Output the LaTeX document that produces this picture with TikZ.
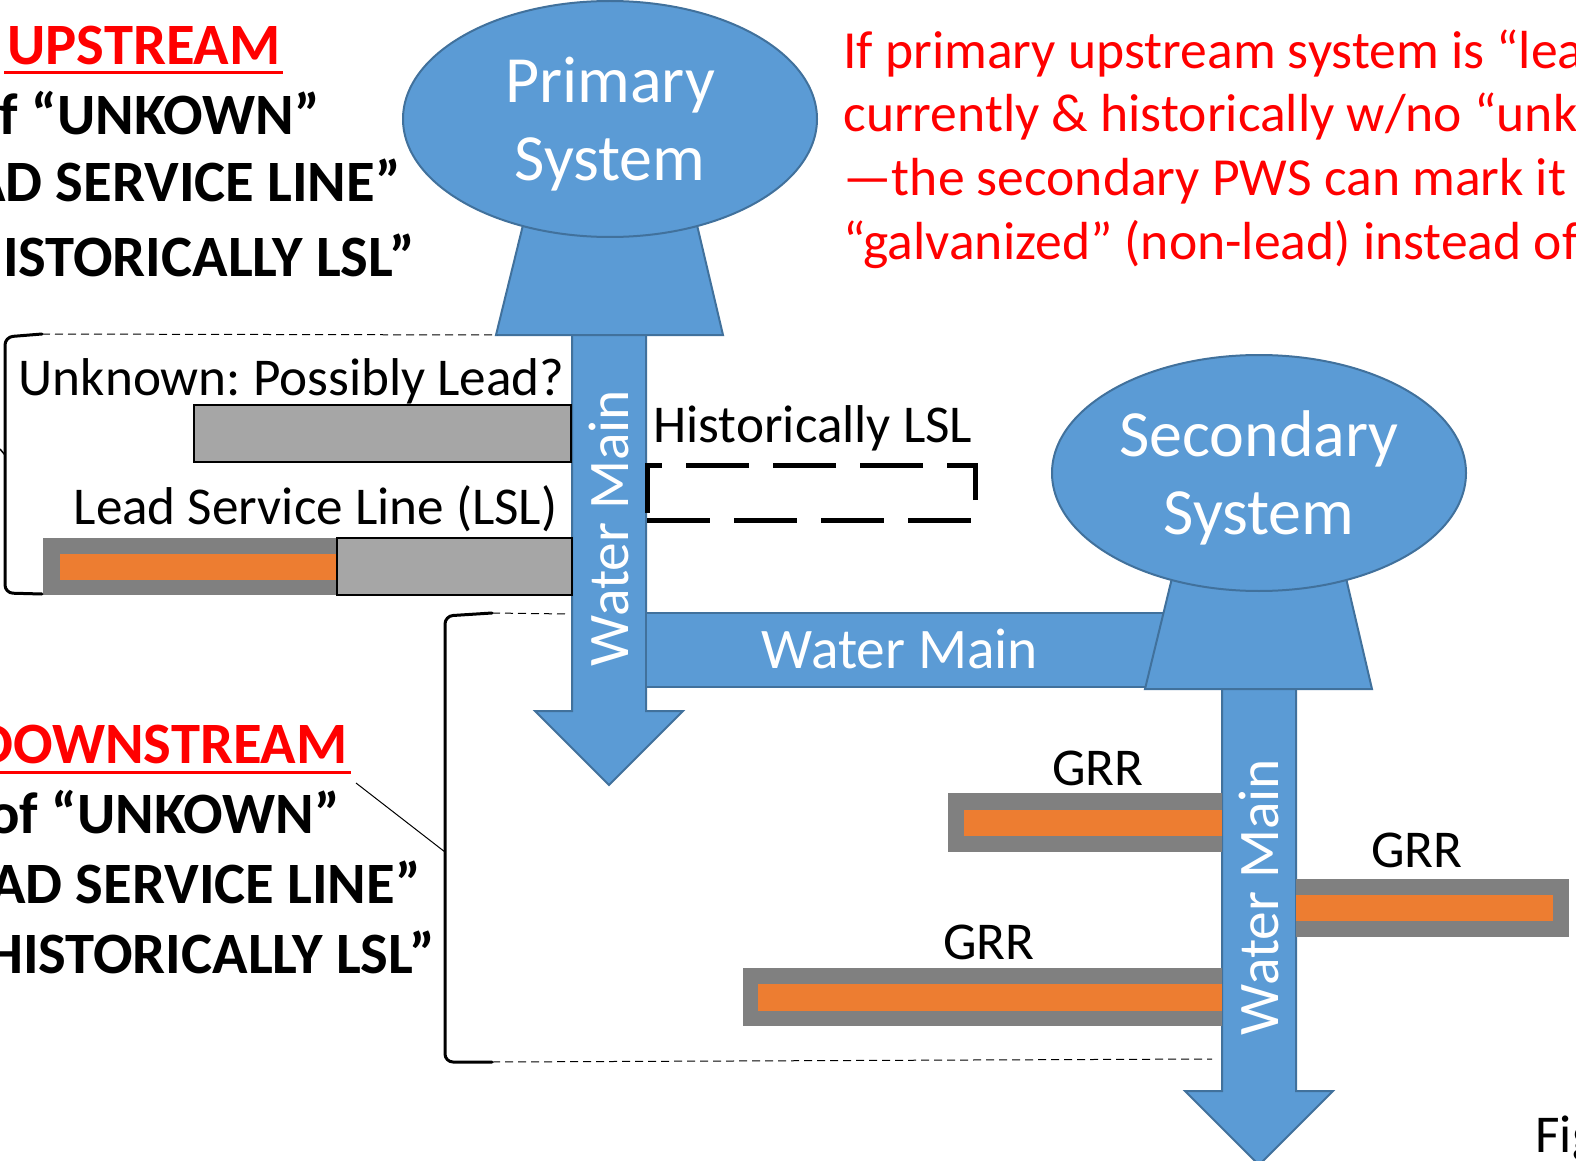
\documentclass[tikz,border=0pt]{standalone}
\usepackage{fontspec}
\setmainfont{Carlito}
\frenchspacing
\usetikzlibrary{shapes.geometric}
\definecolor{wmblue}{HTML}{5B9BD5}
\definecolor{wmedge}{HTML}{41719C}
\definecolor{pipegray}{HTML}{808080}
\definecolor{boxgray}{HTML}{A6A6A6}
\definecolor{leadorange}{HTML}{ED7D31}
\definecolor{alertred}{HTML}{FF0000}
\begin{document}
\begin{tikzpicture}[x=0.5pt,y=-0.5pt,
  wm/.style={fill=wmblue,draw=wmedge,line width=1pt,line join=miter},
  sys/.style={ellipse,wm,minimum width=207pt,minimum height=118pt,inner sep=0pt,text=white,align=center,font=\fontsize{33}{39}\selectfont,text depth=0pt},
  wmtext/.style={text=white,font=\fontsize{28.7}{34}\selectfont,inner sep=0pt},
  lbl/.style={font=\fontsize{26.6}{32}\selectfont,inner sep=0pt},
  boldtxt/.style={font=\fontsize{29.3}{35}\selectfont\bfseries,inner sep=0pt,anchor=base east},
  note/.style={font=\fontsize{26.8}{32}\selectfont,text=alertred,inner sep=0pt,anchor=base west},
  outerpipe/.style={fill=pipegray},
  leadcore/.style={fill=leadorange},
  unkbox/.style={fill=boxgray,draw=black,line width=1pt},
  brk/.style={line width=1.5pt,line cap=round,line join=round,rounded corners=4pt},
  guide/.style={line width=0.5pt,dash pattern=on 4pt off 2.5pt},
  histbox/.style={line width=2.5pt,dash pattern=on 31.5pt off 12pt},
]
\useasboundingbox (0,0) rectangle (1576,1161);
\begin{scope}
\clip (0,0) rectangle (1576,1161);

% ---- water mains (arrows) ----
\draw[wm] (572,330) -- (572,711) -- (535,711) -- (609,785) -- (683,711) -- (646,711) -- (646,330) -- cycle;
\draw[wm] (646,613) rectangle (1170,687);
\draw[wm] (1222,685) -- (1222,1091) -- (1185,1091) -- (1259,1165) -- (1333,1091) -- (1296,1091) -- (1296,685) -- cycle;

% ---- towers ----
\draw[wm] (523,225) -- (697,225) -- (723,335) -- (496,335) -- cycle;
\draw[wm] (1172,578) -- (1346,578) -- (1372,689) -- (1145,689) -- cycle;
\node[sys] (prim) at (610,119) {Primary\\System};
\node[sys] (sec) at (1259,473) {Secondary\\System};

% ---- water main labels ----
\node[wmtext,rotate=90] (wm1) at (609,528) {Water Main};
\node[wmtext,anchor=base] (wm2) at (900,668) {Water Main};
\node[wmtext,rotate=90] (wm3) at (1259,897) {Water Main};

% ---- upstream service lines ----
\draw[unkbox] (194,405) rectangle (571,462);
\fill[outerpipe] (43,538) rectangle (573,595);
\fill[leadcore] (60,554) rectangle (337,580);
\draw[unkbox] (337,538) rectangle (572,595);
\node[lbl,anchor=base east] (unk) at (565,395) {Unknown: Possibly Lead?};
\node[lbl,anchor=base east] (lsl) at (558,524) {Lead Service Line (LSL)};

% ---- historically LSL ----
\node[lbl,anchor=base west] (hist) at (653,442) {Historically LSL};
\draw[histbox] (647,520) -- (975,520) -- (975,465) -- (647,465) -- cycle;

% ---- GRR lines ----
\fill[outerpipe] (948,793) rectangle (1222,852);
\fill[leadcore] (964,810) rectangle (1222,836);
\fill[outerpipe] (1296,879) rectangle (1569,937);
\fill[leadcore] (1296,895) rectangle (1553,921);
\fill[outerpipe] (743,968) rectangle (1222,1026);
\fill[leadcore] (758,984) rectangle (1222,1011);
\node[lbl,anchor=base] (g1) at (1098,785) {GRR};
\node[lbl,anchor=base] (g2) at (1417,867) {GRR};
\node[lbl,anchor=base] (g3) at (989,959) {GRR};

% ---- upstream text ----
\node[boldtxt,text=alertred] (up) at (281,65) {UPSTREAM};
\draw[alertred,line width=1.5pt] ([xshift=-1.5pt,yshift=-4pt]up.base west) -- ([xshift=1pt,yshift=-4pt]up.base east);
\node[boldtxt] (up2) at (320,135) {f “UNKOWN”};
\node[boldtxt] (up3) at (401,202) {AD SERVICE LINE”};
\node[boldtxt] (up4) at (415,277) {ISTORICALLY LSL”};

% ---- downstream text ----
\node[boldtxt,text=alertred] (dn) at (348,763) {DOWNSTREAM};
\draw[alertred,line width=1.5pt] ([xshift=-1.5pt,yshift=-4.5pt]dn.base west) -- ([xshift=1.5pt,yshift=-4.5pt]dn.base east);
\node[boldtxt] (dn2) at (340,833) {of “UNKOWN”};
\node[boldtxt] (dn3) at (421,903) {AD SERVICE LINE”};
\node[boldtxt] (dn4) at (435,973) {HISTORICALLY LSL”};

% ---- red note ----
\node[note] (n1) at (843,69) {If primary upstream system is “lea};
\node[note] (n2) at (843,132) {currently \& historically w/no “unk};
\node[note] (n3) at (843,196) {—the secondary PWS can mark it};
\node[note] (n4) at (843,259) {“galvanized” (non-lead) instead of};

% ---- brackets ----
\coordinate (ubt) at (42,334);
\coordinate (ubb) at (42,594);
\coordinate (utrap) at (497,335);
\draw[brk] (ubt) -- (5,337) -- (5,593) -- (ubb);
\draw[line width=0.75pt] (5,455) -- (0,449);
\draw[guide] (ubt) -- (utrap);

\coordinate (lbt) at (492,613);
\coordinate (lbb) at (492,1062);
\coordinate (lbm) at (445,852);
\coordinate (lstem) at (568,614);
\coordinate (lend) at (1212,1059);
\draw[brk] (lbt) -- (445,616) -- (445,1062) -- (lbb);
\draw[guide] (lbt) -- (lstem);
\draw[guide] (lbb) -- (lend);
\draw[line width=0.5pt] ([xshift=4pt,yshift=-10pt]dn.base east) -- (lbm);

% ---- figure caption fragment ----
\node[lbl,anchor=base west] (fig) at (1535,1152) {Fig};
\end{scope}
\end{tikzpicture}
\end{document}
